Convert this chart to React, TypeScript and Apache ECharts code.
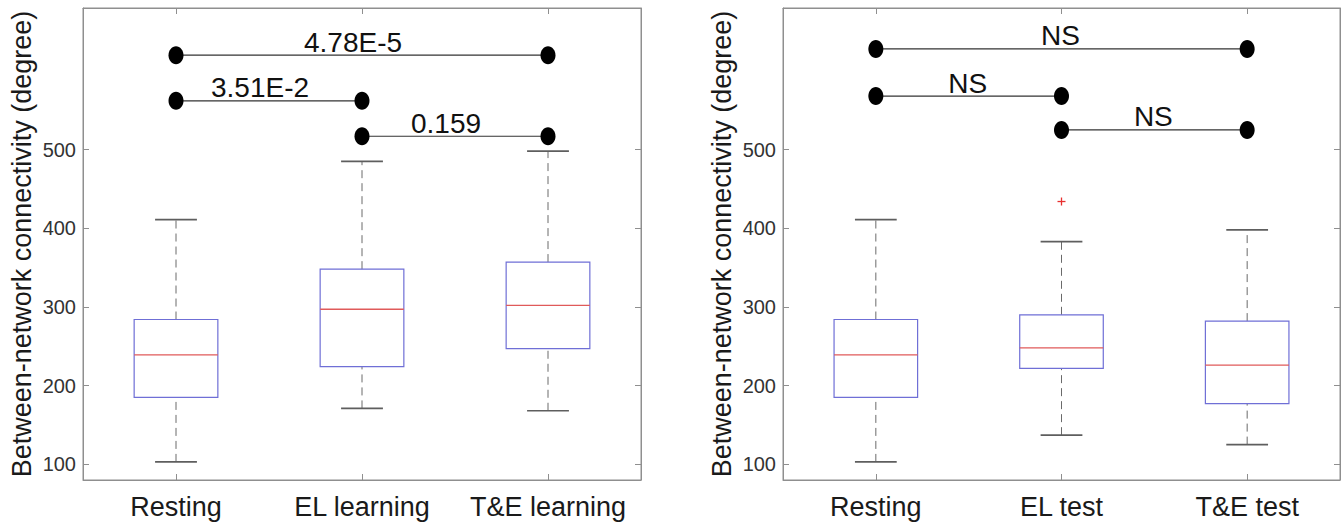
import React, { useEffect, useRef } from "react";
import * as echarts from "echarts";

const categoriesLeft = ["Resting", "EL learning", "T&E learning"];
const categoriesRight = ["Resting", "EL test", "T&E test"];
// [low whisker, Q1, median, Q3, high whisker]
const boxLeft = [
  [103, 185, 239, 284, 411],
  [171, 224, 297, 348, 485],
  [168, 247, 302, 357, 498],
];
const boxRight = [
  [103, 185, 239, 284, 411],
  [137, 222, 248, 290, 383],
  [125, 177, 226, 282, 398],
];
// [category index, value]
const outliersRight = [[1, 434]];
// [from category, to category, level, label]
const sigLeft: [number, number, number, string][] = [
  [0, 2, 620, "4.78E-5"],
  [0, 1, 562, "3.51E-2"],
  [1, 2, 517, "0.159"],
];
const sigRight: [number, number, number, string][] = [
  [0, 2, 628, "NS"],
  [0, 1, 568, "NS"],
  [1, 2, 525, "NS"],
];
const yTicks = [100, 200, 300, 400, 500];
const yName = "Between-network connectivity (degree)";

const FONT = "'Liberation Sans', Arial, Helvetica, sans-serif";
const FRAME = "#8f8f8f";

function boxSeries(data: number[][], xi: number, yi: number) {
  return {
    type: "custom",
    xAxisIndex: xi,
    yAxisIndex: yi,
    data: data.map((d, i) => [i, ...d]),
    encode: { x: 0, y: [1, 2, 3, 4, 5] },
    renderItem: (params: any, api: any) => {
      const i = api.value(0);
      const cx = api.coord([i, 0])[0];
      const yy = [1, 2, 3, 4, 5].map((k) => api.coord([i, api.value(k)])[1]);
      const band = api.size([1, 0])[0];
      const bw = band * 0.45;
      const cw = bw / 2;
      const wStyle = { stroke: "#6a6a6a", lineWidth: 1, lineDash: [8, 5] };
      const cStyle = { stroke: "#5e5e5e", lineWidth: 1.6 };
      return {
        type: "group",
        children: [
          { type: "line", shape: { x1: cx, y1: yy[3], x2: cx, y2: yy[4] }, style: wStyle },
          { type: "line", shape: { x1: cx, y1: yy[0], x2: cx, y2: yy[1] }, style: wStyle },
          { type: "line", shape: { x1: cx - cw / 2, y1: yy[4], x2: cx + cw / 2, y2: yy[4] }, style: cStyle },
          { type: "line", shape: { x1: cx - cw / 2, y1: yy[0], x2: cx + cw / 2, y2: yy[0] }, style: cStyle },
          {
            type: "rect",
            shape: { x: cx - bw / 2, y: yy[3], width: bw, height: yy[1] - yy[3] },
            style: { fill: "none", stroke: "#6f6fd6", lineWidth: 1.2 },
          },
          {
            type: "line",
            shape: { x1: cx - bw / 2, y1: yy[2], x2: cx + bw / 2, y2: yy[2] },
            style: { stroke: "#e05a5a", lineWidth: 1.4 },
          },
        ],
      };
    },
  };
}

function sigSeries(data: [number, number, number, string][], xi: number, yi: number, dx: number) {
  return {
    type: "custom",
    xAxisIndex: xi,
    yAxisIndex: yi,
    clip: false,
    data: data.map((d) => [d[0], d[1], d[2]]),
    encode: { x: [0, 1], y: 2 },
    renderItem: (params: any, api: any) => {
      const a = api.value(0);
      const b = api.value(1);
      const v = api.value(2);
      const p1 = api.coord([a, v]);
      const p2 = api.coord([b, v]);
      const label = data[params.dataIndex][3];
      return {
        type: "group",
        children: [
          {
            type: "line",
            shape: { x1: p1[0], y1: p1[1], x2: p2[0], y2: p2[1] },
            style: { stroke: "#333", lineWidth: 1.2 },
          },
          { type: "ellipse", shape: { cx: p1[0], cy: p1[1], rx: 7.5, ry: 9 }, style: { fill: "#000" } },
          { type: "ellipse", shape: { cx: p2[0], cy: p2[1], rx: 7.5, ry: 9 }, style: { fill: "#000" } },
          {
            type: "text",
            x: (p1[0] + p2[0]) / 2 + dx,
            y: p1[1] + 1,
            style: {
              text: label,
              fontSize: 28,
              fontFamily: FONT,
              fill: "#111",
              align: "center",
              verticalAlign: "bottom",
            },
          },
        ],
      };
    },
  };
}

function outlierSeries(data: number[][], xi: number, yi: number) {
  return {
    type: "custom",
    xAxisIndex: xi,
    yAxisIndex: yi,
    data,
    encode: { x: 0, y: 1 },
    renderItem: (params: any, api: any) => {
      const p = api.coord([api.value(0), api.value(1)]);
      const h = 4;
      const st = { stroke: "#e8302f", lineWidth: 1.3 };
      return {
        type: "group",
        children: [
          { type: "line", shape: { x1: p[0] - h, y1: p[1], x2: p[0] + h, y2: p[1] }, style: st },
          { type: "line", shape: { x1: p[0], y1: p[1] - h, x2: p[0], y2: p[1] + h }, style: st },
        ],
      };
    },
  };
}

function xAxes(cats: string[], gi: number) {
  const common = {
    type: "category",
    gridIndex: gi,
    data: cats,
    boundaryGap: true,
    axisLine: { show: true, lineStyle: { color: FRAME, width: 1 } },
    axisTick: { show: true, inside: true, alignWithLabel: true, interval: 0, length: 6, lineStyle: { color: FRAME } },
    splitLine: { show: false },
  };
  return [
    {
      ...common,
      position: "bottom",
      axisLabel: { show: true, interval: 0, fontSize: 27, fontFamily: FONT, color: "#1a1a1a", margin: 13 },
    },
    { ...common, position: "top", axisLabel: { show: false } },
  ];
}

function yAxes(gi: number) {
  const common = {
    type: "value",
    gridIndex: gi,
    min: 80,
    max: 680,
    axisLine: { show: true, lineStyle: { color: FRAME, width: 1 } },
    axisTick: { show: true, inside: true, length: 6, customValues: yTicks, lineStyle: { color: FRAME } },
    splitLine: { show: false },
  };
  return [
    {
      ...common,
      position: "left",
      name: yName,
      nameLocation: "middle",
      nameGap: 48,
      nameTextStyle: { fontSize: 27, fontFamily: FONT, color: "#1a1a1a" },
      axisLabel: {
        show: true,
        customValues: yTicks,
        fontSize: 20,
        fontFamily: FONT,
        color: "#333",
        margin: 7,
        formatter: (v: number) => (yTicks.indexOf(v) >= 0 ? String(v) : ""),
      },
    },
    { ...common, position: "right", axisLabel: { show: false } },
  ];
}

export default function App() {
  const ref = useRef<HTMLDivElement>(null);
  useEffect(() => {
    if (!ref.current) return;
    const chart = echarts.init(ref.current, null, { renderer: "svg" });
    chart.setOption({
      animation: false,
      backgroundColor: "#ffffff",
      grid: [
        { left: 83, top: 8, width: 558, height: 472, show: true, borderColor: FRAME, borderWidth: 1 },
        { left: 783, top: 8, width: 557, height: 472, show: true, borderColor: FRAME, borderWidth: 1 },
      ],
      xAxis: [...xAxes(categoriesLeft, 0), ...xAxes(categoriesRight, 1)],
      yAxis: [...yAxes(0), ...yAxes(1)],
      series: [
        boxSeries(boxLeft, 0, 0),
        sigSeries(sigLeft, 0, 0, -9),
        boxSeries(boxRight, 2, 2),
        outlierSeries(outliersRight, 2, 2),
        sigSeries(sigRight, 2, 2, -1),
      ],
    });
    return () => chart.dispose();
  }, []);
  return (
    <div
      ref={ref}
      style={{ position: "fixed", left: 0, top: 0, width: 1343, height: 524, background: "#fff" }}
    />
  );
}
